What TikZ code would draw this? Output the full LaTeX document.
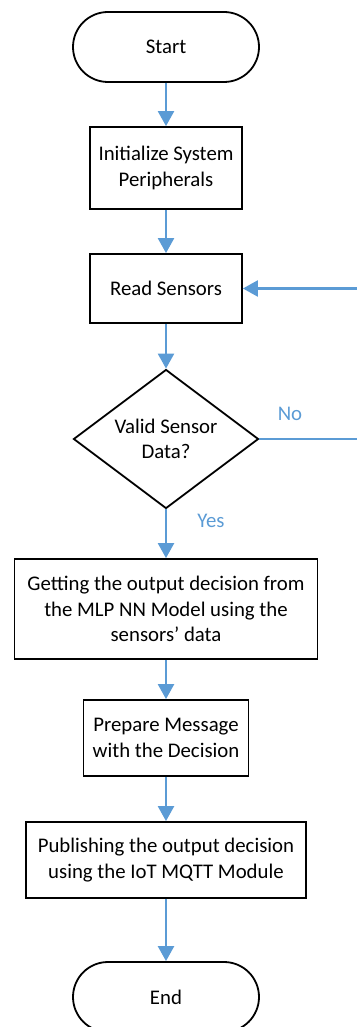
\documentclass[tikz,border=0pt]{standalone}
\usepackage{fontspec}
\setmainfont{Carlito}
\usetikzlibrary{shapes.geometric,arrows.meta}
\definecolor{flowblue}{HTML}{5B9BD5}
\tikzset{
  boxnode/.style={draw=black, line width=1.8pt, align=center, inner sep=0pt, font=\fontsize{20.8}{25.5}\selectfont},
  termnode/.style={boxnode, rounded corners=35pt, minimum width=186pt, minimum height=70pt},
  decnode/.style={draw=black, line width=1.8pt, shape=diamond, align=center, inner sep=0pt, minimum width=185pt, minimum height=139pt, aspect=1.33, font=\fontsize{20.8}{25.5}\selectfont},
  flow/.style={draw=flowblue, line width=2.4pt, -{Triangle[width=16pt,length=15pt]}},
  lbl/.style={text=flowblue, font=\fontsize{20.8}{25.5}\selectfont, inner sep=0pt}
}
\begin{document}
\begin{tikzpicture}[x=1pt,y=-1pt]
\useasboundingbox (0,0) rectangle (356,1027);
\node[termnode] (start) at (166,47) {Start};
\node[boxnode, minimum width=152pt, minimum height=82pt] (init) at (166,168) {Initialize System\\Peripherals};
\node[boxnode, minimum width=152pt, minimum height=69pt] (read) at (166,288.5) {Read Sensors};
\node[decnode] (valid) at (166,439) {Valid Sensor\\Data?};
\node[boxnode, minimum width=303pt, minimum height=100pt] (mlp) at (166,609) {Getting the output decision from\\the MLP NN Model using the\\sensors’ data};
\node[boxnode, minimum width=165pt, minimum height=76pt] (prep) at (166,738) {Prepare Message\\with the Decision};
\node[boxnode, minimum width=280pt, minimum height=76pt] (pub) at (166,860) {Publishing the output decision\\using the IoT MQTT Module};
\node[termnode] (end) at (166,997) {End};
\node[lbl] (no) at (290,414) {No};
\node[lbl] (yes) at (211,521) {Yes};
\coordinate (loop) at (362,439);
\draw[flow] (start) -- (init);
\draw[flow] (init) -- (read);
\draw[flow] (read) -- (valid);
\draw[flow] (valid) -- (mlp);
\draw[flow] (mlp) -- (prep);
\draw[flow] (prep) -- (pub);
\draw[flow] (pub) -- (end);
\draw[flow] (valid.east) -- (loop) |- (read.east);
\end{tikzpicture}
\end{document}
